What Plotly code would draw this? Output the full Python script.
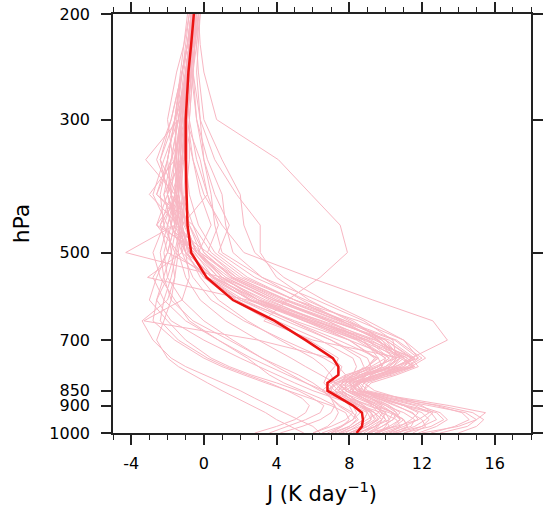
import plotly.graph_objects as go

levels = [1000, 975, 950, 925, 900, 875, 850, 825, 800, 775, 750, 700, 650, 600,
          550, 500, 450, 400, 350, 300, 250, 225, 200]

mean_J = [8.4, 8.7, 8.75, 8.7, 8.2, 7.5, 6.8, 6.8, 7.4, 7.4, 7.1, 5.6, 3.9, 1.6,
          0.15, -0.7, -0.9, -0.95, -1.0, -1.0, -0.85, -0.7, -0.55]

A1 = [10.5, 12.0, 12.8, 12.5, 11.0, 9.5, 8.0, 8.5, 10.0, 11.5, 11.0, 8.5, 5.5, 2.5, 0.5, -0.5, -2.4, -1.8, -1.1, -1.0, -0.8, -0.7, -0.6]
A2 = [9.0, 10.5, 11.0, 10.2, 9.0, 8.2, 7.6, 8.0, 9.5, 11.0, 11.6, 9.0, 6.0, 3.0, 1.0, -0.3, 0.4, -0.2, -0.6, -1.1, -0.9, -0.7, -0.5]
A3 = [12.0, 14.0, 15.0, 15.5, 13.5, 11.0, 8.5, 8.0, 8.8, 10.0, 10.5, 8.0, 5.0, 2.0, 0.0, -1.0, -1.3, -1.5, -1.3, -1.2, -1.0, -0.8, -0.6]
A4 = [14.0, 15.0, 15.4, 14.8, 13.0, 10.5, 8.8, 8.5, 9.5, 10.8, 11.2, 9.5, 6.5, 3.0, 0.5, -0.8, -1.2, -1.0, -0.9, -0.9, -0.7, -0.6, -0.4]
A5 = [8.0, 9.0, 9.5, 9.2, 8.6, 7.8, 7.0, 7.2, 8.5, 10.5, 11.5, 10.0, 7.0, 4.0, 1.5, 0.0, -0.6, -2.6, -1.8, -1.0, -0.8, -0.6, -0.4]
A6 = [7.0, 8.0, 8.5, 8.2, 7.5, 7.0, 6.5, 7.0, 8.0, 9.0, 9.5, 8.0, 5.5, 3.0, 1.0, -0.4, -1.0, -1.4, -1.6, -1.3, -1.0, -0.8, -0.6]
A7 = [11.0, 12.5, 13.2, 12.8, 11.2, 9.8, 8.4, 8.2, 9.0, 10.5, 11.8, 11.0, 8.5, 5.0, 2.0, 0.2, 0.8, 0.2, -0.4, -0.8, -0.6, -0.5, -0.3]
A8 = [9.5, 10.2, 10.0, 9.6, 9.2, 8.8, 8.2, 8.6, 9.8, 11.2, 11.8, 10.5, 7.5, 4.5, 1.8, 0.2, -1.8, -2.2, -1.2, -1.0, -0.8, -0.6, -0.5]
A9 = [6.0, 7.0, 7.8, 8.2, 8.0, 7.6, 7.2, 7.6, 8.4, 9.2, 9.0, 7.0, 4.5, 2.0, 0.2, -0.8, -1.5, -2.0, -1.8, -1.4, -1.1, -0.9, -0.7]
A10 = [10.0, 11.0, 11.8, 11.5, 10.5, 9.5, 8.8, 9.0, 10.2, 11.4, 11.0, 9.2, 6.8, 3.8, 1.2, -0.4, -1.1, -1.5, -2.4, -1.6, -0.9, -0.7, -0.5]
A11 = [12.5, 13.8, 14.6, 14.2, 12.8, 10.8, 9.0, 8.6, 9.2, 10.2, 10.8, 9.6, 7.6, 5.0, 2.4, 0.6, -0.3, -0.8, -1.0, -0.9, -0.7, -0.6, -0.4]
A12 = [8.5, 9.5, 10.0, 9.8, 9.4, 8.6, 7.8, 7.4, 8.0, 9.0, 9.6, 8.8, 6.8, 4.2, 1.6, 0.0, -0.8, -1.2, -1.5, -1.6, -1.3, -1.1, -0.9]
A13 = [7.5, 8.2, 8.8, 9.0, 8.6, 8.0, 7.4, 7.8, 9.0, 10.2, 10.6, 9.8, 8.2, 5.6, 2.8, 0.8, 1.4, 0.6, 0.0, -0.4, -0.7, -0.5, -0.3]
A14 = [11.5, 12.2, 12.0, 11.4, 10.6, 9.6, 8.6, 8.0, 8.6, 9.6, 10.2, 9.0, 6.4, 3.4, 0.8, -0.6, -1.4, -1.8, -2.0, -1.6, -1.2, -0.9, -0.7]
A15 = [9.0, 9.8, 10.4, 10.6, 10.2, 9.4, 8.4, 8.2, 9.4, 11.0, 11.4, 9.4, 6.0, 2.6, 0.4, -0.8, -1.3, -1.6, -1.5, -1.3, -1.0, -0.8, -0.6]
A16 = [6.5, 7.5, 8.2, 8.6, 8.4, 8.0, 7.6, 8.2, 9.6, 11.2, 12.0, 10.6, 7.8, 4.6, 1.8, -0.2, -2.6, -2.0, -1.3, -1.1, -0.9, -0.7, -0.5]
A17 = [13.0, 14.5, 15.0, 14.4, 12.4, 10.2, 8.6, 8.4, 9.0, 9.8, 10.0, 8.6, 6.2, 3.6, 1.2, -0.4, -1.0, -2.6, -2.0, -1.6, -0.6, -0.5, -0.3]
A18 = [10.2, 11.4, 11.6, 11.0, 10.0, 9.2, 8.0, 7.6, 8.2, 9.4, 10.6, 10.4, 8.8, 6.2, 3.2, 1.0, 0.6, 0.4, 0.0, -0.2, -0.6, -0.4, -0.2]
A19 = [7.8, 8.4, 9.0, 9.6, 9.8, 9.2, 8.2, 7.8, 8.6, 10.0, 10.8, 10.0, 7.8, 5.0, 2.2, 0.4, -0.6, -1.2, -1.7, -2.0, -1.5, -1.1, -0.8]
A20 = [9.8, 10.8, 11.4, 11.8, 11.0, 9.8, 8.6, 8.8, 10.0, 11.6, 11.2, 8.8, 5.8, 2.8, 0.6, -2.0, -2.4, -1.4, -1.2, -1.0, -0.8, -0.6, -0.5]
A21 = [8.2, 9.0, 9.6, 9.8, 9.4, 8.4, 7.4, 7.0, 7.8, 9.2, 10.0, 8.4, 5.6, 2.6, 0.2, -1.6, -2.2, -2.4, -2.0, -1.6, -1.2, -0.9, -0.7]
A22 = [10.6, 11.6, 12.2, 12.6, 12.0, 10.8, 9.4, 8.8, 9.2, 10.2, 10.6, 9.0, 6.2, 3.2, 1.0, -0.2, -0.8, -1.8, -2.6, -1.8, -1.2, -0.9, -0.6]
A23 = [7.6, 8.6, 9.2, 9.0, 8.2, 7.4, 6.8, 7.4, 8.8, 10.4, 11.0, 9.8, 7.2, 4.0, 1.4, -0.4, -2.0, -2.8, -2.2, -1.4, -1.0, -0.8, -0.5]
A24 = [9.4, 10.6, 11.8, 12.4, 11.6, 10.0, 8.6, 8.4, 9.0, 9.8, 9.6, 7.4, 4.8, 2.2, 0.2, -1.2, -1.8, -2.2, -1.8, -1.4, -1.0, -0.8, -0.6]
A25 = [11.8, 12.8, 13.4, 13.0, 11.8, 10.2, 8.8, 8.2, 8.6, 9.6, 10.4, 9.6, 7.4, 4.4, 1.6, -0.2, -1.4, -2.0, -1.6, -1.2, -0.9, -0.7, -0.5]
A26 = [8.0, 8.8, 9.2, 9.2, 8.8, 8.2, 7.6, 7.6, 8.2, 9.0, 9.4, 8.0, 5.8, 3.0, 0.6, -1.0, -1.8, -1.6, -1.4, -1.2, -1.0, -0.8, -0.6]
B1 = [8.6, 9.2, 9.8, 10.0, 9.2, 8.0, 7.2, 7.6, 9.0, 10.8, 11.6, 10.2, 7.0, 3.8, 1.0, -4.3, -1.6, -1.0, -0.8, -0.8, -0.6, -0.5, -0.4]
B2 = [7.2, 8.0, 8.4, 8.0, 7.4, 7.0, 6.8, 7.2, 8.2, 9.6, 10.2, 8.6, 5.8, 2.4, -3.1, -1.2, -0.8, -1.6, -3.2, -1.4, -0.9, -0.7, -0.6]
B3 = [8.2, 9.0, 9.6, 9.4, 8.8, 8.0, 7.2, 6.8, 7.4, 7.6, 7.0, 3.0, -3.3, -1.2, -0.8, -1.0, -1.4, -3.0, -1.6, -1.2, -0.9, -0.7, -0.5]
B4 = [10.4, 11.2, 11.0, 10.4, 9.6, 8.8, 8.0, 8.6, 10.4, 11.6, 10.8, 6.0, 3.3, 4.6, 6.4, 7.9, 7.5, 5.9, 4.1, 0.7, 0.0, -0.2, -0.3]
C1 = [9.4, 10.2, 10.8, 10.4, 9.4, 8.6, 7.8, 8.4, 9.6, 10.6, 11.4, 13.4, 12.6, 9.3, 5.8, 2.2, 1.0, 0.0, -0.6, -0.9, -0.7, -0.6, -0.4]
D1 = [11.0, 12.0, 12.4, 12.0, 11.0, 9.8, 8.8, 9.2, 10.6, 11.8, 11.4, 10.0, 8.0, 5.8, 4.0, 3.1, 3.1, 1.8, 0.6, -0.2, -0.4, -0.3, -0.2]
D2 = [9.6, 10.4, 10.8, 10.6, 10.0, 9.0, 8.2, 8.4, 9.8, 11.4, 12.2, 11.0, 9.0, 6.6, 4.4, 2.8, 2.2, 2.0, 1.0, 0.0, -0.3, -0.4, -0.3]
D3 = [8.4, 9.4, 10.2, 10.4, 9.8, 8.8, 7.8, 7.8, 9.0, 10.4, 10.8, 9.6, 7.6, 5.4, 3.2, 1.6, 1.2, 1.0, 0.2, -0.4, -0.6, -0.5, -0.4]
L1 = [5.5, 4.8, 4.0, 3.4, 2.6, 1.8, 1.0, 0.2, -0.6, -1.4, -2.0, -2.6, -2.2, -1.8, -1.6, -1.4, -1.2, -1.1, -1.0, -1.0, -0.8, -0.7, -0.5]
L2 = [6.4, 6.0, 5.2, 4.4, 3.6, 2.8, 2.0, 1.0, 0.0, -1.0, -1.8, -2.8, -3.4, -2.0, -1.6, -1.8, -2.0, -1.6, -1.2, -1.0, -0.8, -0.7, -0.6]
L3 = [2.8, 4.0, 5.0, 5.6, 5.8, 5.4, 4.6, 3.6, 2.4, 1.2, 0.2, -1.4, -2.4, -2.2, -1.8, -1.5, -1.3, -1.2, -1.3, -1.2, -0.9, -0.8, -0.6]
L4 = [7.0, 7.6, 8.0, 7.8, 7.0, 5.8, 4.6, 3.4, 2.2, 1.0, 0.0, -1.6, -2.8, -2.6, -2.0, -1.6, -1.3, -1.0, -0.9, -0.9, -0.7, -0.6, -0.5]
L5 = [8.0, 8.8, 9.4, 9.2, 8.4, 7.2, 6.0, 5.0, 4.0, 3.0, 2.0, 0.0, -1.8, -2.6, -2.2, -1.8, -1.5, -1.3, -1.1, -1.0, -0.8, -0.6, -0.5]
L6 = [6.0, 6.8, 7.2, 7.4, 7.2, 6.4, 5.4, 4.4, 3.6, 3.0, 2.4, 0.8, -1.0, -2.2, -2.8, -2.0, -1.6, -1.8, -1.6, -1.3, -1.0, -0.8, -0.6]
L7 = [4.2, 5.4, 6.4, 7.0, 7.2, 7.0, 6.6, 6.0, 5.2, 4.2, 3.2, 1.4, -0.6, -1.8, -2.2, -2.4, -2.0, -1.4, -1.2, -1.1, -0.9, -0.7, -0.5]
L8 = [9.0, 9.6, 9.8, 9.4, 8.6, 7.6, 6.6, 5.6, 4.6, 3.6, 2.6, 0.8, -0.8, -1.6, -2.4, -2.8, -2.2, -1.6, -1.4, -1.2, -1.0, -0.8, -0.7]
L9 = [3.6, 4.6, 5.6, 6.4, 6.6, 6.0, 5.2, 4.0, 2.6, 1.4, 0.4, -1.0, -2.0, -3.0, -2.6, -2.0, -1.6, -1.4, -1.4, -1.3, -1.0, -0.8, -0.7]
L10 = [10.2, 10.8, 10.6, 9.8, 8.6, 7.4, 6.4, 5.6, 4.8, 4.0, 3.2, 1.6, 0.0, -1.2, -2.0, -2.2, -1.8, -1.4, -1.2, -1.0, -0.8, -0.6, -0.5]
M1 = [8.8, 9.4, 9.8, 9.4, 8.6, 7.8, 7.4, 7.6, 7.8, 7.4, 6.6, 4.4, 2.2, 0.4, -0.6, -1.2, -1.4, -1.5, -1.4, -1.2, -0.9, -0.7, -0.6]
M2 = [9.6, 10.0, 10.2, 10.0, 9.4, 8.8, 8.0, 7.2, 6.4, 5.6, 4.8, 3.0, 1.2, -0.2, -1.0, -1.4, -2.6, -1.4, -1.2, -1.0, -0.8, -0.6, -0.5]
M3 = [7.4, 8.2, 8.8, 9.0, 8.8, 8.2, 7.6, 7.2, 7.0, 6.6, 6.0, 4.2, 2.4, 0.8, -0.2, -0.9, -1.2, -1.4, -1.6, -1.5, -1.2, -1.0, -0.8]
M4 = [10.8, 11.2, 11.0, 10.4, 9.6, 8.8, 8.2, 8.0, 8.2, 8.4, 8.2, 6.4, 4.0, 1.8, 0.2, -0.8, -1.2, 0.2, -0.2, -1.0, -0.8, -0.6, -0.4]
M5 = [6.8, 7.6, 8.2, 8.4, 8.2, 7.6, 7.0, 6.6, 6.8, 7.2, 7.4, 5.8, 3.6, 1.6, 0.0, -1.0, -1.6, -2.0, -2.4, -1.8, -1.2, -0.9, -0.7]
M6 = [9.2, 9.8, 10.4, 10.8, 10.2, 9.2, 8.4, 8.0, 8.4, 8.8, 8.6, 7.0, 4.8, 2.6, 0.8, -0.4, -1.0, -1.2, -1.2, -1.0, -0.8, -0.6, -0.4]

members = [A1, A2, A3, A4, A5, A6, A7, A8, A9, A10, A11, A12, A13, A14, A15, A16,
           A17, A18, A19, A20, A21, A22, A23, A24, A25, A26, B1, B2, B3, B4, C1,
           D1, D2, D3, L1, L2, L3, L4, L5, L6, L7, L8, L9, L10, M1, M2, M3, M4, M5, M6]

x_ticks = [-4, 0, 4, 8, 12, 16]
x_ticktext = ["-4", "0", "4", "8", "12", "16"]
y_ticks = [200, 300, 500, 700, 850, 900, 1000]

FONT = "DejaVu Sans, Liberation Sans, Arial, sans-serif"

fig = go.Figure()
for m in members:
    fig.add_trace(go.Scatter(x=m, y=levels, mode="lines",
                             line=dict(color="rgb(248,183,195)", width=1),
                             showlegend=False, hoverinfo="skip"))
fig.add_trace(go.Scatter(x=mean_J, y=levels, mode="lines",
                         line=dict(color="rgb(235,20,20)", width=2.5),
                         showlegend=False))

axis_common = dict(showline=True, linecolor="#222", linewidth=1.5, mirror="allticks",
                   ticks="outside", tickcolor="#222", tickwidth=1.5, ticklen=10,
                   showgrid=False, zeroline=False, automargin=False,
                   ticklabeloverflow="allow",
                   tickfont=dict(family=FONT, size=16, color="black"))

fig.update_xaxes(range=[-5, 18], tickvals=x_ticks, ticktext=x_ticktext,
                 minor=dict(dtick=1, tick0=0, ticks="outside", ticklen=5,
                            tickwidth=1.2, tickcolor="#222", showgrid=False),
                 title=dict(text="J (K day<sup>−1</sup>)",
                            font=dict(family=FONT, size=21, color="black"),
                            standoff=14),
                 ticklabelstandoff=5,
                 **axis_common)
fig.update_yaxes(type="log", range=[3, 2.30103], tickvals=y_ticks,
                 ticktext=[str(v) for v in y_ticks],
                 title=dict(text="hPa", font=dict(family=FONT, size=22, color="black"),
                            standoff=14),
                 ticklabelstandoff=8,
                 **axis_common)

fig.update_layout(width=546, height=512,
                  margin=dict(l=113, r=15, t=14, b=79),
                  plot_bgcolor="white", paper_bgcolor="white")

# remove the browser's default 8px body margin so the figure fills the window
fig.write_html("out.html", config={"displayModeBar": False},
               post_script="document.body.style.margin='0';document.body.style.overflow='hidden';")
